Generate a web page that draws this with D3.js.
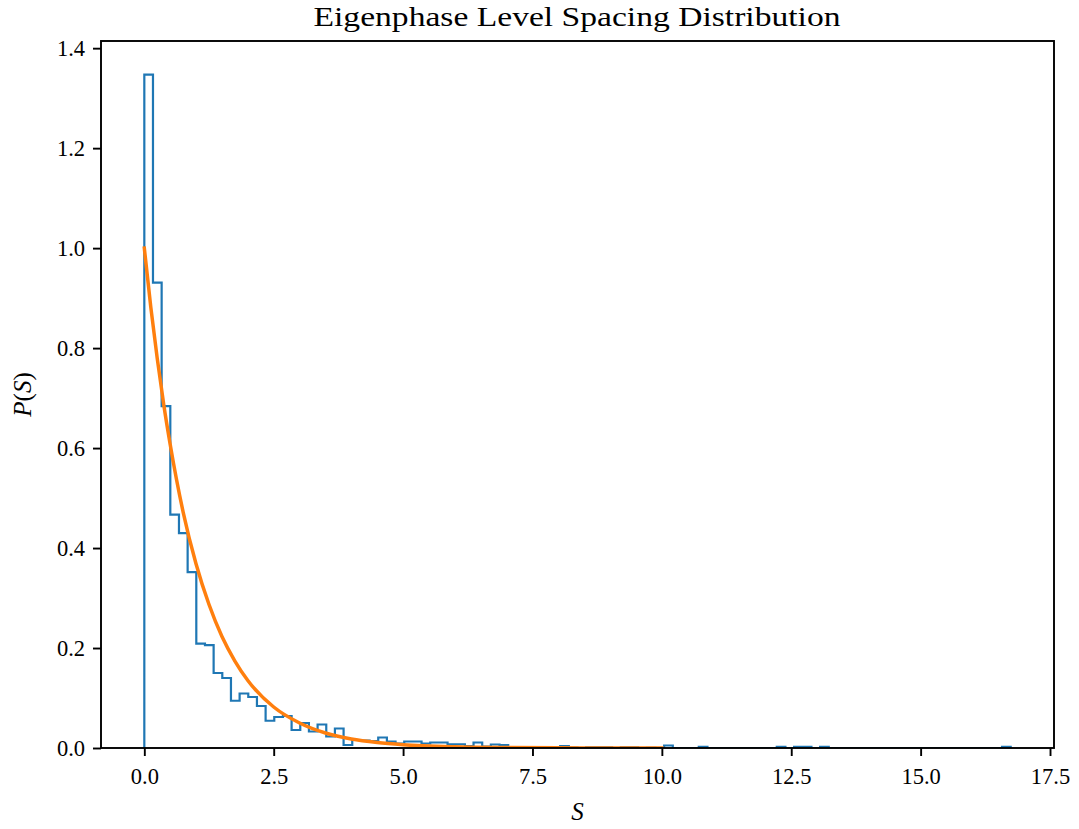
<!DOCTYPE html>
<html>
<head>
<meta charset="utf-8">
<script src="https://cdn.jsdelivr.net/npm/d3@7"></script>
<style>
  html, body { margin: 0; padding: 0; background: #fff; }
  svg { display: block; }
  text { font-family: "Liberation Serif", "DejaVu Serif", serif; fill: #000; }
</style>
</head>
<body>
<svg id="chart" width="1079" height="829"></svg>
<script>
// ---- data ----
const titleText = "Eigenphase Level Spacing Distribution";
const xLabelText = "S";
const sMin = 0;
const sMax = 16.74;
const binCount = 100;
// histogram density per bin (step outline)
const density = [
  1.347, 0.931, 0.684, 0.467, 0.430, 0.352, 0.209, 0.206, 0.150, 0.140,
  0.0945, 0.109, 0.102, 0.084, 0.0545, 0.062, 0.064, 0.036, 0.050, 0.033,
  0.047, 0.023, 0.039, 0.006, 0.016, 0.015, 0.014, 0.021, 0.013, 0.009,
  0.013, 0.013, 0.009, 0.011, 0.011, 0.0075, 0.0075, 0.004, 0.011, 0.003,
  0.007, 0.006, 0.002, 0.001, 0.001, 0.0015, 0.001, 0.0005, 0.004, 0.001,
  0, 0.0015, 0.0015, 0.0015, 0, 0.0015, 0.0015, 0, 0.0005, 0,
  0.005, 0, 0, 0, 0.0025, 0, 0, 0, 0, 0,
  0, 0, 0, 0.0025, 0, 0.0025, 0.0025, 0, 0.0025, 0,
  0, 0, 0, 0, 0, 0, 0, 0, 0, 0,
  0, 0, 0, 0, 0, 0, 0, 0, 0, 0.0025
];
// reference curve
const curveS = [0, 0.125, 0.25, 0.375, 0.5, 0.75, 1.0, 1.25, 1.5, 1.75, 2.0, 2.5, 3.0, 3.5, 4.0, 4.5, 5.0, 6.0, 7.0, 8.0, 9.0, 10.0];
const curveP = [1.0, 0.882, 0.779, 0.687, 0.607, 0.472, 0.368, 0.287, 0.223, 0.174, 0.135, 0.082, 0.050, 0.030, 0.018, 0.011, 0.0067, 0.0025, 0.0009, 0.0003, 0.0001, 0.00005];
const xTicks = [0, 2.5, 5, 7.5, 10, 12.5, 15, 17.5];
const yTicks = [0, 0.2, 0.4, 0.6, 0.8, 1.0, 1.2, 1.4];

// ---- layout ----
const L = 101, R = 1054, T = 41, B = 748;
const svg = d3.select("#chart");

const span = sMax - sMin;
const x = d3.scaleLinear().domain([sMin - 0.05 * span, sMax + 0.05 * span]).range([L, R]);
const y = d3.scaleLinear().domain([0, d3.max(density) * 1.05]).range([B, T]);

svg.append("clipPath").attr("id", "clip")
  .append("rect").attr("x", L).attr("y", T).attr("width", R - L).attr("height", B - T);

const g = svg.append("g").attr("clip-path", "url(#clip)");

// step histogram outline
const w = span / binCount;
const pts = [[sMin, 0]];
density.forEach((d, i) => {
  pts.push([sMin + i * w, d]);
  pts.push([sMin + (i + 1) * w, d]);
});
pts.push([sMax, 0]);
g.append("path")
  .attr("d", d3.line().x(d => x(d[0])).y(d => y(d[1]))(pts))
  .attr("fill", "none")
  .attr("stroke", "#1f77b4")
  .attr("stroke-width", 2.2)
  .attr("stroke-linejoin", "miter");

// orange curve
const cpts = curveS.map((s, i) => [s, curveP[i]]);
g.append("path")
  .attr("d", d3.line().x(d => x(d[0])).y(d => y(d[1])).curve(d3.curveMonotoneX)(cpts))
  .attr("fill", "none")
  .attr("stroke", "#ff7f0e")
  .attr("stroke-width", 3.5)
  .attr("stroke-linecap", "square");

// axes
const fmt = d3.format(".1f");
const xAxis = svg.append("g").attr("transform", `translate(0,${B})`)
  .call(d3.axisBottom(x).tickValues(xTicks).tickFormat(fmt).tickSize(8).tickPadding(8));
const yAxis = svg.append("g").attr("transform", `translate(${L},0)`)
  .call(d3.axisLeft(y).tickValues(yTicks).tickFormat(fmt).tickSize(8).tickPadding(8));
[xAxis, yAxis].forEach(a => {
  a.select(".domain").remove();
  a.selectAll(".tick line").attr("stroke", "#000").attr("stroke-width", 1.9);
  a.selectAll(".tick text").attr("font-size", 22.5).attr("font-family", "Liberation Serif");
});
xAxis.selectAll(".tick text").attr("dy", "0.9em");

// spines
svg.append("rect").attr("x", L).attr("y", T).attr("width", R - L).attr("height", B - T)
  .attr("fill", "none").attr("stroke", "#000").attr("stroke-width", 1.9);

// title
svg.append("text").attr("x", (L + R) / 2 - 0.5).attr("y", 26)
  .attr("text-anchor", "middle").attr("font-size", 28)
  .attr("textLength", 527).attr("lengthAdjust", "spacingAndGlyphs")
  .text(titleText);

// x label
svg.append("text").attr("x", (L + R) / 2).attr("y", 820)
  .attr("text-anchor", "middle").attr("font-size", 25).attr("font-style", "italic").text(xLabelText);

// y label P(S)
const yl = svg.append("text").attr("transform", `translate(31,${(T + B) / 2}) rotate(-90)`)
  .attr("text-anchor", "middle").attr("font-size", 25);
yl.append("tspan").attr("font-style", "italic").text("P");
yl.append("tspan").text("(");
yl.append("tspan").attr("font-style", "italic").text("S");
yl.append("tspan").text(")");
</script>
</body>
</html>
